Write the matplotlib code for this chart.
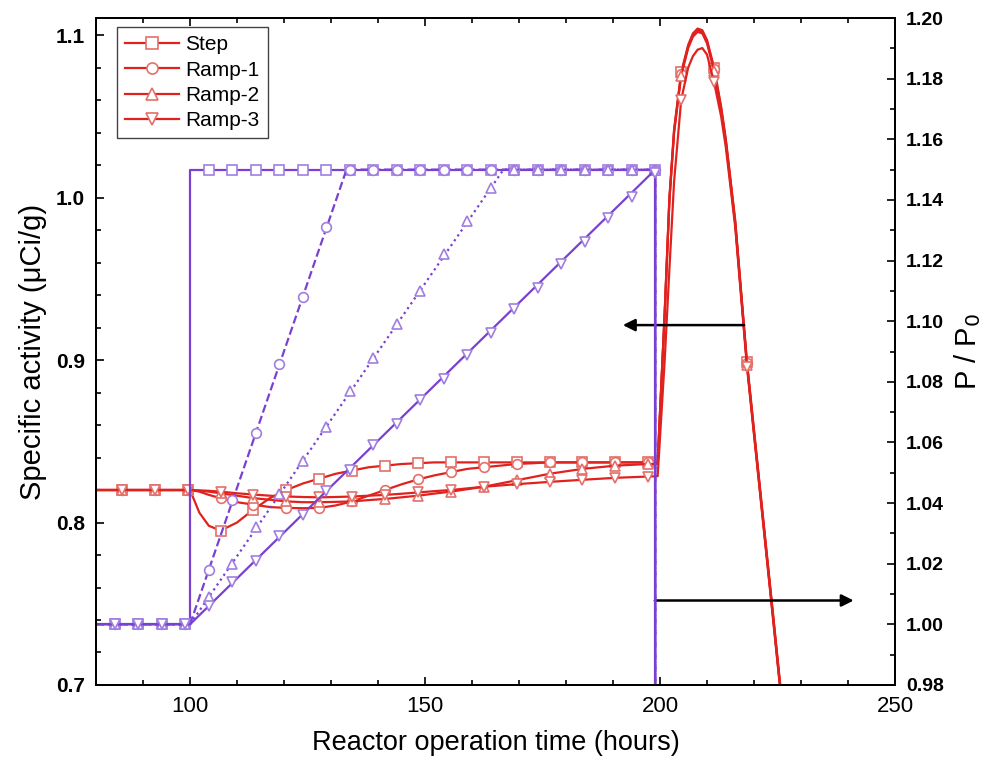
import numpy as np
import matplotlib.pyplot as plt
from matplotlib.lines import Line2D
from matplotlib.ticker import MultipleLocator

plt.rcParams['font.family'] = ['Liberation Sans', 'DejaVu Sans']

RED = '#e0221f'
RED_MARK = '#e4706a'
PURPLE = '#7a40d2'
PURPLE_MARK = '#a07ee0'

series_names = ['Step', 'Ramp-1', 'Ramp-2', 'Ramp-3']
markers = ['s', 'o', '^', 'v']
power_styles = ['-', '--', ':', '-']

# relative power P / P0 (right axis)
# line corners: power rises from t=100 h to the end of each ramp, drops at ~199 h
ramp_end = [100, 133.3, 166.7, 199]
shutdown_t = 199
# value read at each marker time
power_mark_t = [84, 89, 94, 99, 104, 109, 114, 119, 124, 129, 134, 139, 144, 149,
                154, 159, 164, 169, 174, 179, 184, 189, 194, 199]
p_step = [1.00] * 4 + [1.15] * 20
p_ramp1 = [1.00] * 4 + [1.018, 1.041, 1.063, 1.086, 1.108, 1.131] + [1.15] * 14
p_ramp2 = [1.00] * 4 + [1.009, 1.020, 1.032, 1.043, 1.054, 1.065, 1.077, 1.088,
                        1.099, 1.110, 1.122, 1.133, 1.144] + [1.15] * 7
p_ramp3 = [1.00] * 4 + [1.006, 1.014, 1.021, 1.029, 1.036, 1.044, 1.051, 1.059,
                        1.066, 1.074, 1.081, 1.089, 1.096, 1.104, 1.111, 1.119,
                        1.126, 1.134, 1.141, 1.149]
power_marks = [p_step, p_ramp1, p_ramp2, p_ramp3]

# specific activity, uCi/g (left axis)
act_t = [80, 85.5, 92.5, 99.5, 100, 102, 104, 106.5, 110, 113.5, 117, 120.5, 124,
         127.5, 131, 134.5, 138, 141.5, 145, 148.5, 152, 155.5, 159, 162.5, 166,
         169.5, 176.5, 183.5, 190.5, 197.5, 199.5, 201, 202, 203, 204.5, 206, 207,
         208, 209, 210, 211.5, 213, 214, 216, 218.5, 221, 224, 227]
act_step = [0.820, 0.820, 0.820, 0.820, 0.820, 0.806, 0.798, 0.795, 0.800, 0.808,
            0.815, 0.820, 0.824, 0.827, 0.830, 0.832, 0.834, 0.835, 0.836, 0.8365,
            0.837, 0.837, 0.837, 0.837, 0.837, 0.837, 0.837, 0.837, 0.837, 0.837,
            0.837, 0.930, 1.000, 1.042, 1.077, 1.094, 1.101, 1.104, 1.103, 1.097,
            1.080, 1.056, 1.036, 0.986, 0.899, 0.829, 0.745, 0.660]
act_ramp1 = [0.820, 0.820, 0.820, 0.820, 0.820, 0.819, 0.817, 0.815, 0.8125, 0.811,
             0.8095, 0.809, 0.8088, 0.809, 0.8105, 0.813, 0.8165, 0.820, 0.8235,
             0.8265, 0.829, 0.831, 0.833, 0.834, 0.835, 0.836, 0.837, 0.837, 0.837,
             0.837, 0.837, 0.929, 0.999, 1.041, 1.076, 1.093, 1.100, 1.103, 1.102,
             1.096, 1.079, 1.055, 1.035, 0.985, 0.898, 0.828, 0.744, 0.659]
act_ramp2 = [0.820, 0.820, 0.820, 0.820, 0.820, 0.8195, 0.819, 0.818, 0.8165, 0.815,
             0.814, 0.813, 0.8125, 0.8125, 0.8127, 0.813, 0.8138, 0.8145, 0.8155,
             0.8165, 0.8178, 0.819, 0.8205, 0.822, 0.824, 0.826, 0.830, 0.833, 0.835,
             0.836, 0.836, 0.928, 0.998, 1.040, 1.075, 1.092, 1.099, 1.102, 1.101,
             1.095, 1.078, 1.054, 1.034, 0.984, 0.897, 0.827, 0.743, 0.658]
act_ramp3 = [0.820, 0.820, 0.820, 0.820, 0.820, 0.8198, 0.8195, 0.819, 0.818, 0.8172,
             0.8165, 0.816, 0.8157, 0.8155, 0.8157, 0.816, 0.8165, 0.817, 0.8177,
             0.8185, 0.8193, 0.820, 0.821, 0.822, 0.8228, 0.8236, 0.825, 0.8263,
             0.8275, 0.8283, 0.8285, 0.900, 0.956, 1.010, 1.060, 1.080, 1.087, 1.091,
             1.092, 1.088, 1.071, 1.050, 1.031, 0.982, 0.896, 0.826, 0.742, 0.657]
activities = [act_step, act_ramp1, act_ramp2, act_ramp3]
act_mark_t = [85.5, 92.5, 99.5, 106.5, 113.5, 120.5, 127.5, 134.5, 141.5, 148.5,
              155.5, 162.5, 169.5, 176.5, 183.5, 190.5, 197.5, 204.5, 211.5, 218.5]


fig = plt.figure(figsize=(9.97, 7.6), dpi=100)
ax = fig.add_axes([0.0963, 0.0987, 0.8014, 0.8776])
ax2 = ax.twinx()

# activity curves (left axis)
mark_mask = np.isin(act_t, act_mark_t)
for vals, m in zip(activities, markers):
    ax.plot(act_t, vals, color=RED, lw=1.6, marker=m, markevery=list(mark_mask),
            ms=7, mfc='white', mec=RED_MARK, mew=1.2)

# power curves (right axis)
for i, (pm, m, ls) in enumerate(zip(power_marks, markers, power_styles)):
    line_t = [80, 100, ramp_end[i], shutdown_t, shutdown_t]
    line_p = [1.00, 1.00, 1.15, 1.15, 0.0]
    if i == 0:
        line_t = [80, 100, 100, shutdown_t, shutdown_t]
    ax2.plot(line_t, line_p, color=PURPLE, lw=1.6, ls=ls)
    ax2.plot(power_mark_t, pm, ls='none', marker=m, ms=7, mfc='white',
             mec=PURPLE_MARK, mew=1.2)

ax.set_xlim(80, 250)
ax.set_ylim(0.7, 1.1105)
ax2.set_ylim(0.98, 1.20)

ax.xaxis.set_major_locator(MultipleLocator(50))
ax.xaxis.set_minor_locator(MultipleLocator(10))
ax.yaxis.set_major_locator(MultipleLocator(0.1))
ax.yaxis.set_minor_locator(MultipleLocator(0.02))
ax2.yaxis.set_major_locator(MultipleLocator(0.02))
ax2.yaxis.set_minor_locator(MultipleLocator(0.01))
ax.yaxis.set_major_formatter(plt.FormatStrFormatter('%.1f'))
ax2.yaxis.set_major_formatter(plt.FormatStrFormatter('%.2f'))

ax.tick_params(which='both', direction='in', top=True, width=1.2)
ax.tick_params(which='major', length=6, pad=8)
ax.tick_params(which='minor', length=3.5)
ax2.tick_params(which='both', direction='in', width=1.2)
ax2.tick_params(which='major', length=6, pad=8)
ax2.tick_params(which='minor', length=3.5)
for a in (ax, ax2):
    for sp in a.spines.values():
        sp.set_linewidth(1.4)

for lab in ax.get_yticklabels():
    lab.set_fontsize(15)
    lab.set_fontweight('bold')
for lab in ax.get_xticklabels():
    lab.set_fontsize(16)
for lab in ax2.get_yticklabels():
    lab.set_fontsize(14)
    lab.set_fontweight('bold')

ax.set_xlabel('Reactor operation time (hours)', fontsize=19.5, labelpad=9)
ax.set_ylabel('Specific activity (\u03bcCi/g)', fontsize=21, labelpad=6)
ax2.set_ylabel('P / P$_0$', fontsize=21, labelpad=6)

# arrows pointing to the axis each group belongs to
ax.annotate('', xy=(191.5, 0.9215), xytext=(218.5, 0.9215),
            arrowprops=dict(arrowstyle='-|>', color='k', lw=1.8, mutation_scale=18))
ax.annotate('', xy=(241.8, 0.752), xytext=(198.3, 0.752),
            arrowprops=dict(arrowstyle='-|>', color='k', lw=1.8, mutation_scale=18))

handles = [Line2D([], [], color=RED, lw=1.6, marker=m, ms=8, mfc='white',
                  mec=RED_MARK, mew=1.2) for m in markers]
leg = ax2.legend(handles, series_names, loc='upper left',
                 bbox_to_anchor=(0.026, 0.9865), borderaxespad=0, fontsize=15,
                 handlelength=2.6, handletextpad=0.3, labelspacing=0.3,
                 fancybox=False, framealpha=1, edgecolor='#444444')
leg.get_frame().set_linewidth(1.0)

fig.savefig('out.png', dpi=100)
